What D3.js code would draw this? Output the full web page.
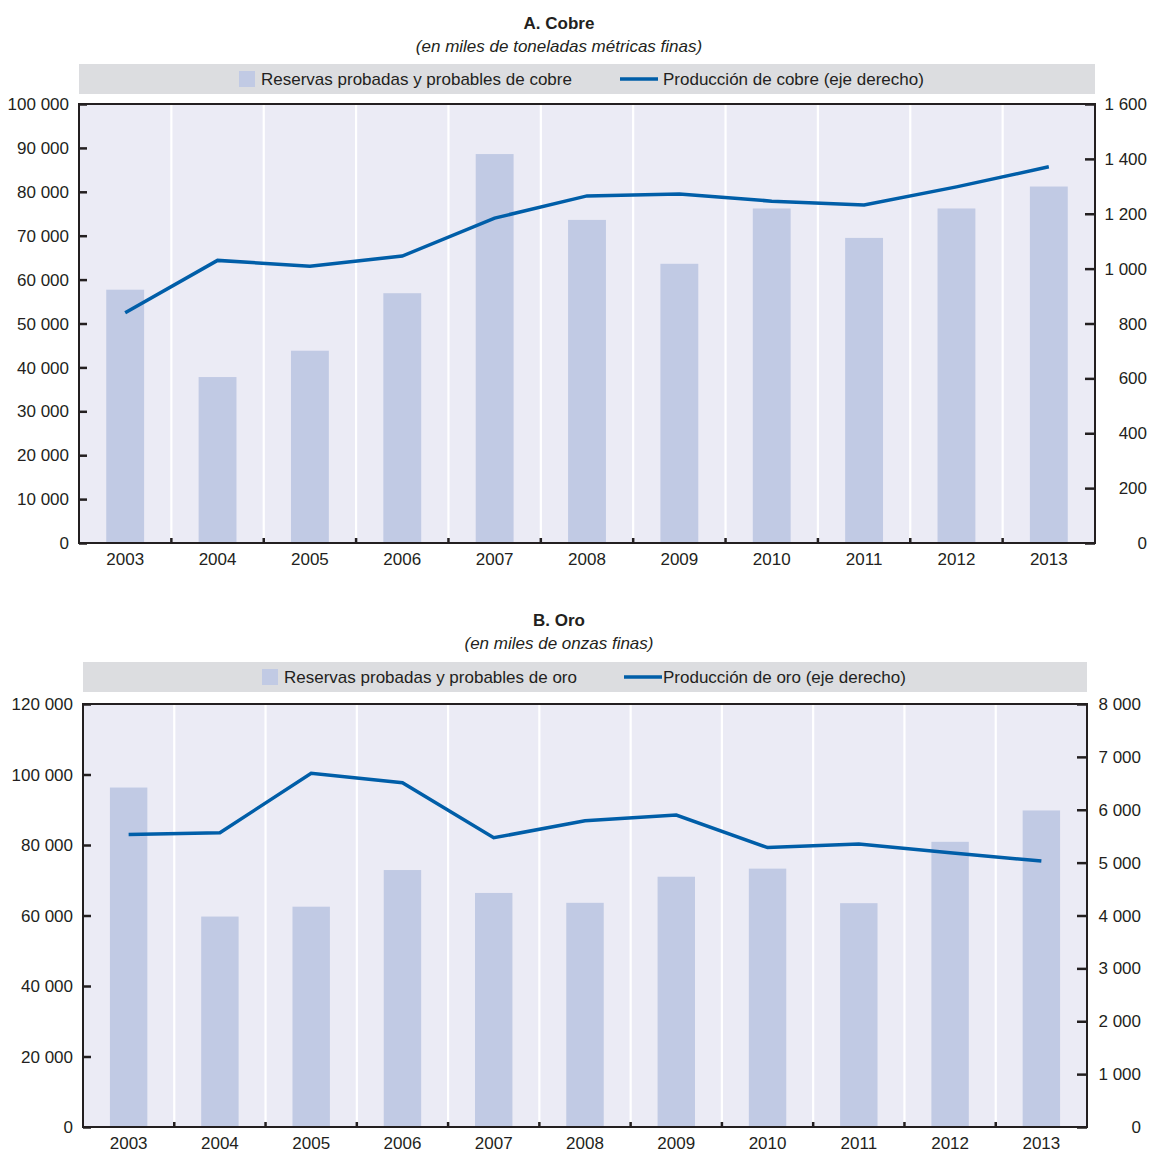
<!DOCTYPE html>
<html>
<head>
<meta charset="utf-8">
<script src="https://cdn.jsdelivr.net/npm/d3@7"></script>
<style>
  html, body { margin: 0; padding: 0; background: #fff; }
  svg { display: block; font-family: "Liberation Sans", Arial, Helvetica, sans-serif; }
</style>
</head>
<body>
<svg id="chart" width="1149" height="1152"></svg>
<script>
// ---- Data ----
const years = ["2003","2004","2005","2006","2007","2008","2009","2010","2011","2012","2013"];

// Panel A: Cobre
const copperReserves = [57700, 37800, 43800, 56900, 88600, 73600, 63600, 76200, 69500, 76200, 81200];
const copperProduction = [839, 1030, 1009, 1046, 1184, 1265, 1272, 1246, 1232, 1298, 1371];
const copperLeftTicks = [0, 10000, 20000, 30000, 40000, 50000, 60000, 70000, 80000, 90000, 100000];
const copperRightTicks = [0, 200, 400, 600, 800, 1000, 1200, 1400, 1600];

// Panel B: Oro
const goldReserves = [96300, 59700, 62500, 72900, 66400, 63600, 71000, 73300, 63500, 80900, 89800];
const goldProduction = [5530, 5565, 6690, 6510, 5470, 5790, 5900, 5285, 5350, 5185, 5030];
const goldLeftTicks = [0, 20000, 40000, 60000, 80000, 100000, 120000];
const goldRightTicks = [0, 1000, 2000, 3000, 4000, 5000, 6000, 7000, 8000];

const textsA = {
  title: "A. Cobre",
  subtitle: "(en miles de toneladas métricas finas)",
  legBar: "Reservas probadas y probables de cobre",
  legLine: "Producción de cobre (eje derecho)"
};
const textsB = {
  title: "B. Oro",
  subtitle: "(en miles de onzas finas)",
  legBar: "Reservas probadas y probables de oro",
  legLine: "Producción de oro (eje derecho)"
};

// ---- Styles ----
const C = {
  plotBg: "#ebebf5",
  bar: "#c1cae4",
  line: "#005ea8",
  legendBg: "#dcdde0",
  axis: "#231f20",
  text: "#231f20"
};

const fmt = v => d3.format(",")(v).replace(/,/g, " ");

const svg = d3.select("#chart");

function drawPanel(cfg) {
  const g = svg.append("g");
  const { left, right, top, bottom } = cfg;

  // title & subtitle
  g.append("text").attr("x", cfg.titleX).attr("y", cfg.titleY)
    .attr("text-anchor", "middle").attr("font-size", 17).attr("font-weight", "bold")
    .attr("fill", C.text).text(cfg.texts.title);
  g.append("text").attr("x", cfg.titleX).attr("y", cfg.titleY + 23)
    .attr("text-anchor", "middle").attr("font-size", 17).attr("font-style", "italic")
    .attr("fill", C.text).text(cfg.texts.subtitle);

  // legend
  g.append("rect").attr("x", left).attr("y", cfg.legY).attr("width", right - left).attr("height", 30)
    .attr("fill", C.legendBg);
  const lc = cfg.legY + 15;
  g.append("rect").attr("x", cfg.legSwX).attr("y", lc - 8).attr("width", 16).attr("height", 16)
    .attr("fill", C.bar);
  g.append("text").attr("x", cfg.legSwX + 22).attr("y", lc + 6).attr("font-size", 17)
    .attr("fill", C.text).text(cfg.texts.legBar);
  g.append("line").attr("x1", cfg.legLineX).attr("x2", cfg.legLineX + 38)
    .attr("y1", lc).attr("y2", lc).attr("stroke", C.line).attr("stroke-width", 3.5);
  g.append("text").attr("x", cfg.legLineX + 39 + cfg.legLineGap).attr("y", lc + 6).attr("font-size", 17)
    .attr("fill", C.text).text(cfg.texts.legLine);

  // scales
  const x = d3.scaleBand().domain(years).range([left, right]).paddingInner(0).paddingOuter(0);
  const yL = d3.scaleLinear().domain(cfg.leftDomain).range([bottom, top]);
  const yR = d3.scaleLinear().domain(cfg.rightDomain).range([bottom, top]);

  // background
  g.append("rect").attr("x", left).attr("y", top).attr("width", right - left).attr("height", bottom - top)
    .attr("fill", C.plotBg);

  // white vertical grid lines at category boundaries
  g.append("g").selectAll("line").data(years.slice(1)).join("line")
    .attr("x1", d => x(d)).attr("x2", d => x(d))
    .attr("y1", top).attr("y2", bottom)
    .attr("stroke", "#fff").attr("stroke-width", 2.2);

  // bars
  const bw = x.bandwidth() * 0.41;
  g.append("g").selectAll("rect").data(cfg.bars).join("rect")
    .attr("x", (d, i) => x(years[i]) + x.bandwidth() / 2 - bw / 2)
    .attr("width", bw)
    .attr("y", d => yL(d))
    .attr("height", d => bottom - yL(d))
    .attr("fill", C.bar);

  // line
  const line = d3.line()
    .x((d, i) => x(years[i]) + x.bandwidth() / 2)
    .y(d => yR(d));
  g.append("path").datum(cfg.line).attr("d", line)
    .attr("fill", "none").attr("stroke", C.line).attr("stroke-width", 3.5)
    .attr("stroke-linejoin", "miter").attr("stroke-linecap", "butt");

  // left axis (ticks inward)
  const axL = g.append("g").attr("transform", `translate(${left},0)`)
    .call(d3.axisRight(yL).tickValues(cfg.leftTicks).tickSize(8).tickFormat(""));
  axL.select(".domain").remove();
  axL.selectAll(".tick line").attr("stroke", C.axis).attr("stroke-width", 2.5);
  g.append("g").selectAll("text").data(cfg.leftTicks).join("text")
    .attr("x", left - 10).attr("y", d => yL(d)).attr("dy", "0.36em")
    .attr("text-anchor", "end").attr("font-size", 17).attr("fill", C.text).text(fmt);

  // right axis (ticks inward)
  const axR = g.append("g").attr("transform", `translate(${right},0)`)
    .call(d3.axisLeft(yR).tickValues(cfg.rightTicks).tickSize(10).tickFormat(""));
  axR.select(".domain").remove();
  axR.selectAll(".tick line").attr("stroke", C.axis).attr("stroke-width", 2.5);
  g.append("g").selectAll("text").data(cfg.rightTicks).join("text")
    .attr("x", cfg.rightLabelX).attr("y", d => yR(d)).attr("dy", "0.36em")
    .attr("text-anchor", "end").attr("font-size", 17).attr("fill", C.text).text(fmt);

  // bottom axis: ticks at boundaries pointing up
  g.append("g").selectAll("line").data(years.slice(1)).join("line")
    .attr("x1", d => x(d)).attr("x2", d => x(d))
    .attr("y1", bottom).attr("y2", bottom - 5)
    .attr("stroke", C.axis).attr("stroke-width", 2.5);
  g.append("g").selectAll("text").data(years).join("text")
    .attr("x", d => x(d) + x.bandwidth() / 2).attr("y", bottom + 22)
    .attr("text-anchor", "middle").attr("font-size", 17).attr("fill", C.text).text(d => d);

  // frame
  g.append("rect").attr("x", left).attr("y", top).attr("width", right - left).attr("height", bottom - top)
    .attr("fill", "none").attr("stroke", C.axis).attr("stroke-width", 2);
}

drawPanel({
  left: 79, right: 1095, top: 104, bottom: 543,
  titleX: 559, titleY: 29,
  legY: 64, legSwX: 239, legLineX: 620, legLineGap: 4,
  leftDomain: [0, 100000], rightDomain: [0, 1600],
  leftTicks: copperLeftTicks, rightTicks: copperRightTicks,
  rightLabelX: 1147,
  bars: copperReserves, line: copperProduction,
  texts: textsA
});

drawPanel({
  left: 83, right: 1087, top: 704, bottom: 1127,
  titleX: 559, titleY: 626,
  legY: 662, legSwX: 262, legLineX: 624, legLineGap: 0,
  leftDomain: [0, 120000], rightDomain: [0, 8000],
  leftTicks: goldLeftTicks, rightTicks: goldRightTicks,
  rightLabelX: 1141,
  bars: goldReserves, line: goldProduction,
  texts: textsB
});
</script>
</body>
</html>
